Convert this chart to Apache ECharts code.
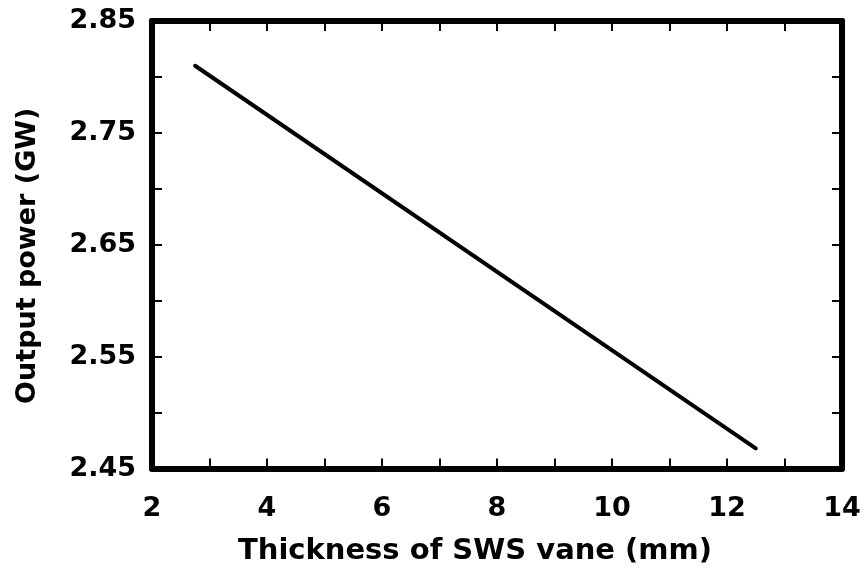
<!DOCTYPE html>
<html>
<head>
<meta charset="utf-8">
<script src="https://cdn.jsdelivr.net/npm/echarts@6/dist/echarts.min.js"></script>
<style>
  html, body { margin: 0; padding: 0; background: #fff; }
  #chart { width: 867px; height: 571px; }
</style>
</head>
<body>
<div id="chart"></div>
<script>
// Vane thickness (mm) and the resulting output power (GW)
const thickness = [2.75, 12.5];
const outputPower = [2.810, 2.468];

const xTitle = 'Thickness of SWS vane (mm)';
const yTitle = 'Output power (GW)';

const FONT = 'DejaVu Sans';
const tickStyle = { show: true, inside: true, length: 10, lineStyle: { color: '#000', width: 2 } };
const minorStyle = { show: true, splitNumber: 2, length: 10, lineStyle: { color: '#000', width: 2 } };
const lineStyle = { show: true, onZero: false, lineStyle: { color: '#000', width: 6 } };
const labelStyle = { color: '#000', fontFamily: FONT, fontWeight: 'bold', fontSize: 27 };

const chart = echarts.init(document.getElementById('chart'), null, { renderer: 'canvas' });
chart.setOption({
  animation: false,
  backgroundColor: '#fff',
  grid: { left: 152, right: 25, top: 21, bottom: 102.5, containLabel: false },
  xAxis: [
    {
      type: 'value', min: 2, max: 14, interval: 2, position: 'bottom',
      axisLine: lineStyle, axisTick: tickStyle, minorTick: minorStyle,
      splitLine: { show: false },
      axisLabel: Object.assign({ margin: 27 }, labelStyle),
      name: xTitle, nameLocation: 'middle', nameGap: 68,
      nameTextStyle: Object.assign({}, labelStyle, { fontSize: 29, padding: [0, 44, 0, 0] })
    },
    {
      type: 'value', min: 2, max: 14, interval: 2, position: 'top',
      axisLine: lineStyle, axisTick: tickStyle, minorTick: minorStyle,
      splitLine: { show: false }, axisLabel: { show: false }
    }
  ],
  yAxis: [
    {
      type: 'value', min: 2.45, max: 2.85, interval: 0.1, position: 'left',
      axisLine: lineStyle, axisTick: tickStyle, minorTick: minorStyle,
      splitLine: { show: false },
      axisLabel: Object.assign({ margin: 16, formatter: v => v.toFixed(2) }, labelStyle),
      name: yTitle, nameLocation: 'middle', nameGap: 111,
      nameTextStyle: Object.assign({}, labelStyle, { fontSize: 27, padding: [0, 22, 0, 0] })
    },
    {
      type: 'value', min: 2.45, max: 2.85, interval: 0.1, position: 'right',
      axisLine: lineStyle, axisTick: tickStyle, minorTick: minorStyle,
      splitLine: { show: false }, axisLabel: { show: false }
    }
  ],
  series: [{
    type: 'line',
    data: thickness.map((t, i) => [t, outputPower[i]]),
    showSymbol: false,
    lineStyle: { color: '#000', width: 4, cap: 'round' },
    silent: true
  }]
});
</script>
</body>
</html>
